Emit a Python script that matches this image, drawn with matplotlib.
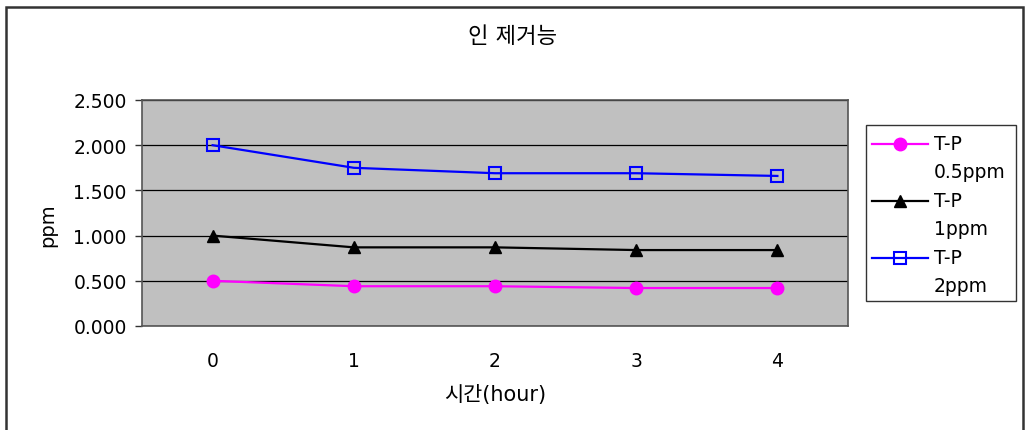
import matplotlib
matplotlib.use("Agg")
import matplotlib.pyplot as plt
from matplotlib.patches import Rectangle
from matplotlib.lines import Line2D

plt.rcParams['font.family'] = ['DejaVu Sans', 'Noto Sans CJK KR']

hours = [0, 1, 2, 3, 4]
tp_05 = [0.50, 0.44, 0.44, 0.42, 0.42]
tp_1 = [1.00, 0.87, 0.87, 0.84, 0.84]
tp_2 = [2.00, 1.75, 1.69, 1.69, 1.66]
series_labels = [("T-P", "0.5ppm"), ("T-P", "1ppm"), ("T-P", "2ppm")]
y_ticks = [0.0, 0.5, 1.0, 1.5, 2.0, 2.5]

W, H = 1026, 431
fig = plt.figure(figsize=(W / 100, H / 100), dpi=100)
fig.patch.set_facecolor("white")


def fx(px):
    return px / W


def fy(py):
    return 1 - py / H


# outer chart frame
fig.patches.append(Rectangle((fx(6), -0.05), fx(1017), 1 - 8 / H + 0.05,
                             transform=fig.transFigure, fill=False,
                             edgecolor="#333333", linewidth=1.8))

ax = fig.add_axes([fx(142), fy(327), fx(706), 226 / H])
ax.set_facecolor("#C0C0C0")

styles = [
    dict(color="#FF00FF", marker="o", ms=9, mfc="#FF00FF", mec="#FF00FF", mew=1),
    dict(color="black", marker="^", ms=9, mfc="black", mec="black", mew=1),
    dict(color="#0000FF", marker="s", ms=8, mfc="none", mec="#0000FF", mew=1.5),
]
for vals, st in zip([tp_05, tp_1, tp_2], styles):
    ax.plot(hours, vals, lw=1.6, zorder=3, **st)

ax.set_xlim(-0.5, 4.5)
ax.set_ylim(0, 2.5)
ax.set_yticks(y_ticks)
ax.set_yticklabels([f"{v:.3f}" for v in y_ticks])
ax.set_xticks(hours)
ax.set_xticklabels([str(h) for h in hours])
ax.yaxis.grid(True, color="black", lw=0.9)
ax.set_axisbelow(True)
ax.tick_params(axis="y", length=5, width=1, color="#333333", labelsize=13.5, pad=6)
ax.tick_params(axis="x", length=0, labelsize=13.5, pad=18)
for s in ax.spines.values():
    s.set_color("#555555")
    s.set_linewidth(1.2)

ax.set_ylabel("ppm", fontsize=14)
ax.yaxis.set_label_coords((57 - 142) / 706, 0.45)
ax.set_xlabel("시간(hour)", fontsize=15, labelpad=10)
fig.text(fx(513), fy(37), "인 제거능", ha="center", va="center", fontsize=16)

# legend box with two-line entries, handle aligned to the first line
fig.patches.append(Rectangle((fx(866), fy(302)), fx(150), 176 / H,
                             transform=fig.transFigure, fill=True, facecolor="white",
                             edgecolor="#333333", linewidth=1.0))
entry_y = [145, 202, 259]
for (l1, l2), st, yy in zip(series_labels, styles, entry_y):
    fig.lines.append(Line2D([fx(872), fx(928)], [fy(yy), fy(yy)], lw=1.6,
                            transform=fig.transFigure, color=st["color"]))
    fig.lines.append(Line2D([fx(900)], [fy(yy)], transform=fig.transFigure,
                            ls="none", marker=st["marker"], ms=st["ms"],
                            mfc=st["mfc"], mec=st["mec"], mew=st["mew"]))
    fig.text(fx(934), fy(yy), l1, ha="left", va="center", fontsize=13.5)
    fig.text(fx(934), fy(yy + 28), l2, ha="left", va="center", fontsize=13.5)

fig.savefig("out.png", dpi=100)
